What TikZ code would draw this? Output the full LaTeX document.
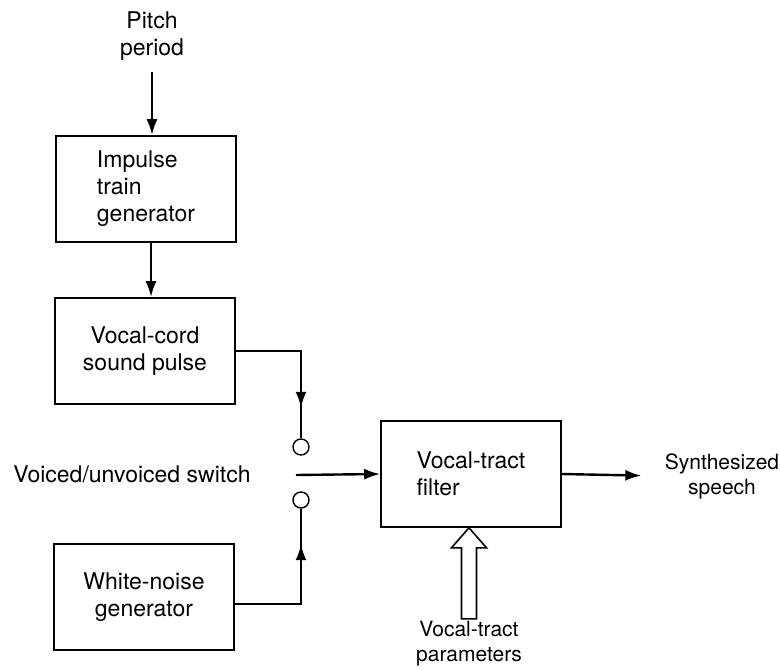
\documentclass[tikz,border=0pt]{standalone}
\usepackage{fontspec}
\setmainfont{TeX Gyre Heros}
\usetikzlibrary{arrows.meta,decorations.markings}

\begin{document}
\begin{tikzpicture}[
	x=1pt, y=-1pt,
	font=\fontsize{23}{27}\selectfont,
	block/.style = {shape=rectangle, draw, line width=1.6pt,
		minimum width=180pt, minimum height=106pt},
	sig/.style = {line width=2.4pt, -{Latex[length=16pt,width=11pt]}},
	wire/.style = {line width=2.4pt},
	contact/.style = {circle, draw, line width=1.4pt,
		minimum size=16pt, inner sep=0pt},
	small/.style = {font=\fontsize{21}{25}\selectfont, align=center},
	midtip/.style = {postaction={decorate}, decoration={markings,
		mark=at position #1 with {\arrow{Latex[length=16pt,width=11pt]}}}}]
	\useasboundingbox (0,0) rectangle (780,670);
	\node[align=center] (pitch) at (152,36) {Pitch\\period};
	\node[block, align=left] (impulse) at (146,189) {Impulse\\train\\generator};
	\node[block, align=center] (cord) at (145,351) {Vocal-cord\\sound pulse};
	\node[block, align=center] (noise) at (144,597) {White-noise\\generator};
	\node[block, align=left] (tract) at (471,474) {Vocal-tract\\filter};
	\node[contact] (up) at (301,447) {};
	\node[contact] (down) at (301,500) {};
	\node (switch) at (132,474) {Voiced/unvoiced switch};
	\coordinate (pole) at (296,475);
	\node[small] (speech) at (722,476) {Synthesized\\speech};
	\node[small] (params) at (469,644) {Vocal-tract\\parameters};

	\draw[sig, shorten <=8pt] (pitch) -- (pitch |- impulse.north);
	\draw[sig] ([xshift=5pt]impulse.south) -- ([xshift=6pt]cord.north);
	\draw[wire, midtip=0.8] (cord.east) -| (up.north);
	\draw[wire, midtip=0.78] ([yshift=-7pt]noise.east) -| (down.south);
	\draw[sig] (pole) -- (tract.west);
	\draw[sig, shorten >=20pt] (tract.east) -- (speech.west);
	\draw[line width=1.6pt] ([xshift=-2pt]tract.south) -- ++(-17.5,20) -- ++(10,0)
		-- ++(0,71) -- ++(15,0) -- ++(0,-71) -- ++(10,0) -- cycle;
\end{tikzpicture}
\end{document}
